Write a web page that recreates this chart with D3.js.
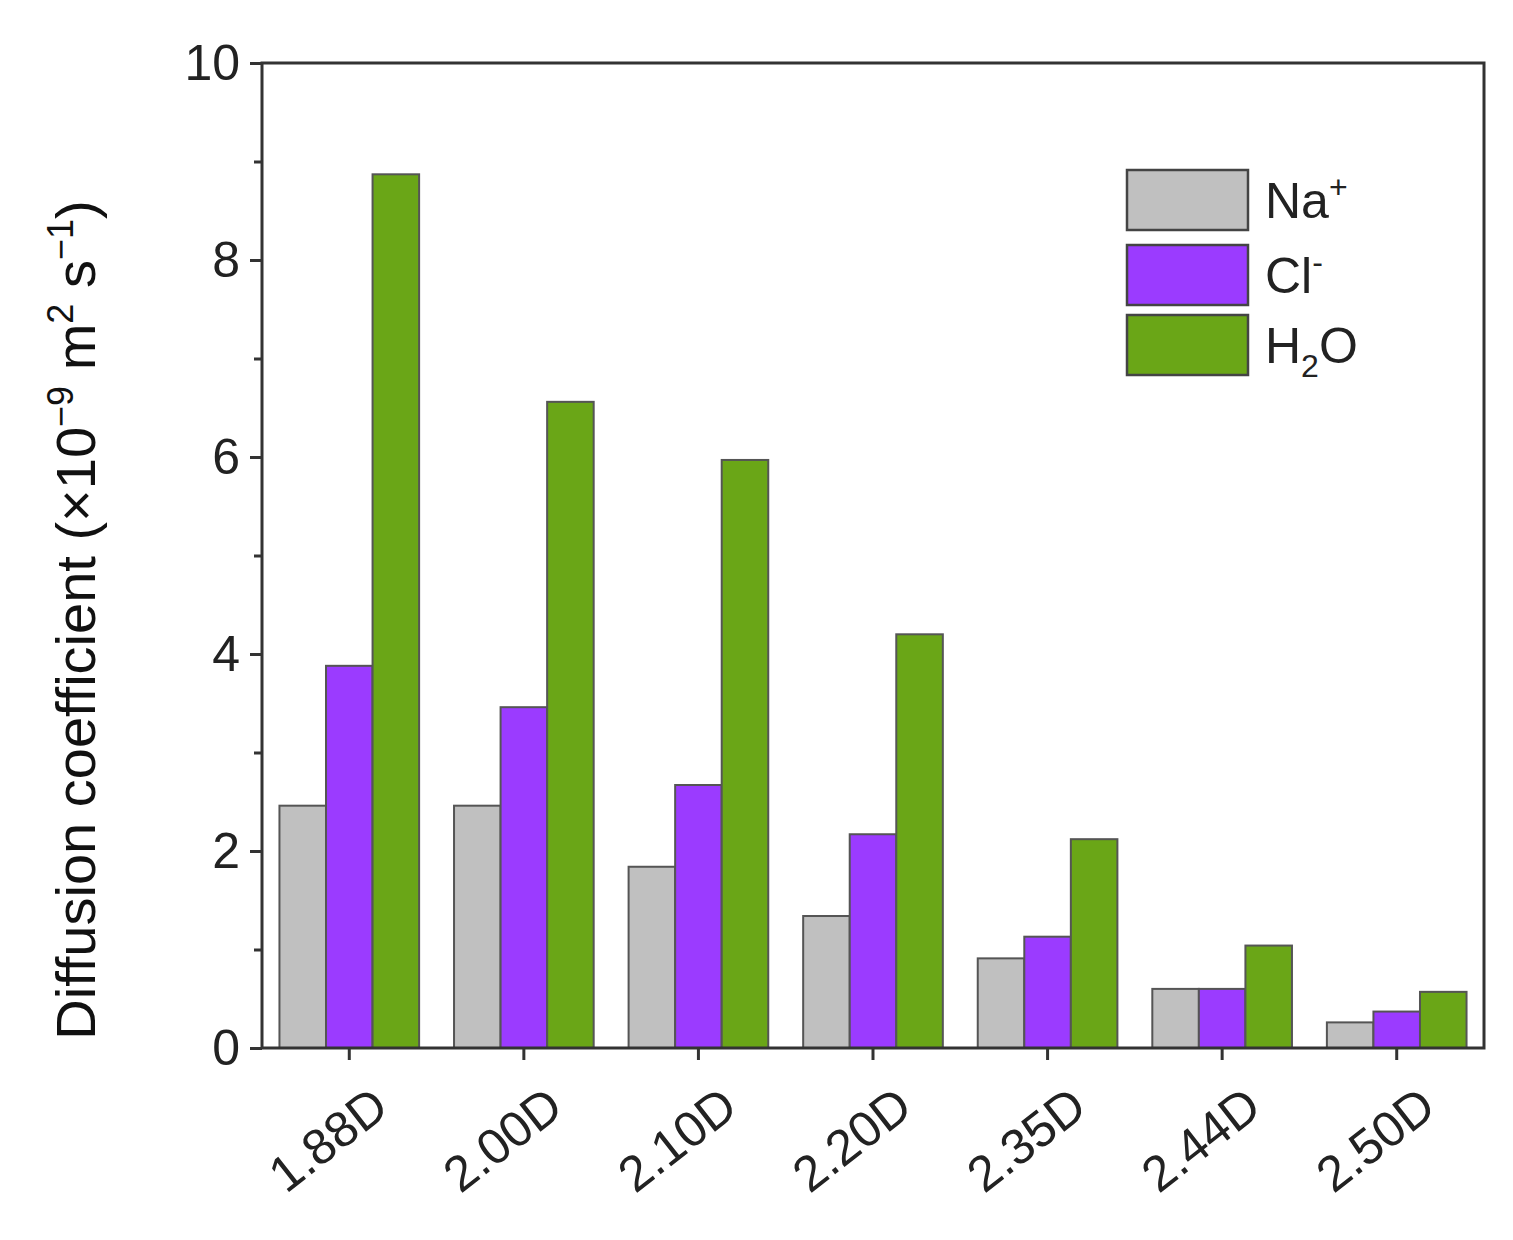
<!DOCTYPE html><html><head><script src="https://cdn.jsdelivr.net/npm/d3@7"></script>
<style>body{margin:0;background:#fff}text{font-family:"Liberation Sans",Arial,sans-serif}</style></head><body>
<svg id="c" width="1513" height="1240"></svg>
<script>
const categories=["1.88D","2.00D","2.10D","2.20D","2.35D","2.44D","2.50D"];
const seriesNames=["Na","Cl","H2O"];
const na=[2.46,2.46,1.84,1.34,0.91,0.60,0.26];
const cl=[3.88,3.46,2.67,2.17,1.13,0.60,0.37];
const h2o=[8.87,6.56,5.97,4.20,2.12,1.04,0.57];
const yTicks=[0,2,4,6,8,10];
const colors=["#c0c0c0","#9b3bff","#6aa617"];
const svg=d3.select("#c");
const L=262,R=1484,T=63,B=1048;
const x=d3.scaleBand().domain(categories).range([L,R]).paddingInner(0.2).paddingOuter(0.1);
const xs=d3.scaleBand().domain(seriesNames).range([0,x.bandwidth()]);
const y=d3.scaleLinear().domain([0,10]).range([B,T]);
const data=[na,cl,h2o];
data.forEach((arr,si)=>{
 svg.append("g").selectAll("rect").data(arr).join("rect")
  .attr("x",(d,i)=>x(categories[i])+xs(seriesNames[si]))
  .attr("y",d=>y(d)).attr("width",xs.bandwidth()).attr("height",d=>B-y(d))
  .attr("fill",colors[si]).attr("stroke","#555").attr("stroke-width",2);
});
svg.append("rect").attr("x",L).attr("y",T).attr("width",R-L).attr("height",B-T).attr("fill","none").attr("stroke","#333").attr("stroke-width",3);
const ya=svg.append("g").attr("transform",`translate(${L},0)`).call(d3.axisLeft(y).tickValues(yTicks).tickSize(12).tickPadding(10).tickFormat(d3.format("d")));
ya.select(".domain").remove();
ya.selectAll("line").attr("stroke","#333").attr("stroke-width",3);
ya.selectAll("text").attr("font-size",50).attr("fill","#222");
svg.append("g").attr("transform",`translate(${L},0)`).call(d3.axisLeft(y).tickValues([1,3,5,7,9]).tickSize(8).tickFormat("")).call(g=>g.select(".domain").remove()).selectAll("line").attr("stroke","#333").attr("stroke-width",3);
const xa=svg.append("g").attr("transform",`translate(0,${B})`).call(d3.axisBottom(x).tickSize(12).tickPadding(6));
xa.select(".domain").remove();
xa.selectAll("line").attr("stroke","#333").attr("stroke-width",3);
xa.selectAll("text").attr("font-size",50).attr("fill","#222").attr("text-anchor","end")
 .attr("transform","translate(20,36) rotate(-38)").attr("dy","0.35em");
svg.append("text").attr("transform","translate(95,620) rotate(-90)").attr("text-anchor","middle").attr("font-size",56).attr("fill","#111")
 .html('Diffusion coefficient (×10<tspan dy="-22" font-size="36">−9</tspan><tspan dy="22"> m</tspan><tspan dy="-22" font-size="36">2</tspan><tspan dy="22"> s</tspan><tspan dy="-22" font-size="36">−1</tspan><tspan dy="22">)</tspan>');
const leg=[["Na","+",""],["Cl","-",""],["H","","2O"]];
const ly=[170,245,315];
leg.forEach((l,i)=>{
 svg.append("rect").attr("x",1127).attr("y",ly[i]).attr("width",121).attr("height",60).attr("fill",colors[i]).attr("stroke","#444").attr("stroke-width",2.5);
 const t=svg.append("text").attr("x",1265).attr("y",ly[i]+48).attr("font-size",50).attr("fill","#222");
 if(i<2) t.html(`${l[0]}<tspan dy="-20" font-size="32">${l[1]}</tspan>`);
 else t.html(`H<tspan dy="14" font-size="32">2</tspan><tspan dy="-14">O</tspan>`);
});
</script></body></html>
